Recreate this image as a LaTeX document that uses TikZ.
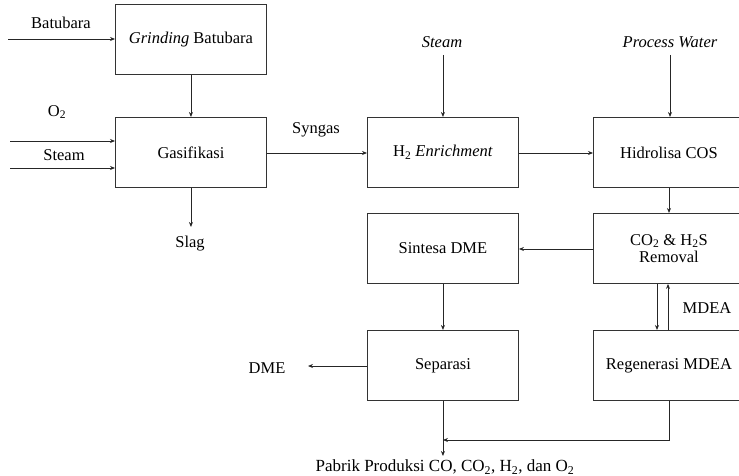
\documentclass[tikz,border=0pt]{standalone}
\usepackage{fontspec}
\setmainfont{Liberation Serif}
\usetikzlibrary{arrows.meta}
\begin{document}
\begin{tikzpicture}[x=1pt,y=-1pt,
  every node/.style={font=\fontsize{16.5}{19.5}\selectfont, inner sep=0pt},
  blok/.style={draw=black!80, line width=0.9pt, minimum width=151pt, minimum height=70pt, align=center, anchor=north west},
  lbl/.style={align=center},
  arr/.style={draw=black!85, line width=0.8pt, -{Stealth[length=5pt,width=4pt]}},
  ln/.style={draw=black!85, line width=0.8pt}]
\useasboundingbox (0,0) rectangle (739,476);
\clip (0,0) rectangle (739,476);
% boxes
\node[blok] (grind) at (115,4) {\textit{Grinding} Batubara};
\node[blok] (gas) at (115,117) {Gasifikasi};
\node[blok] (h2) at (367,117) {H\textsubscript{2} \textit{Enrichment}};
\node[blok] (hid) at (593,117) {Hidrolisa COS};
\node[blok] (sin) at (367,213) {Sintesa DME};
\node[blok, align=center] (rem) at (593,213) {CO\textsubscript{2} \& H\textsubscript{2}S\\[-2pt]Removal};
\node[blok] (sep) at (367,330) {Separasi};
\node[blok] (reg) at (593,330) {Regenerasi MDEA};
% labels
\node[lbl] (lbat) at (61,23) {Batubara};
\node[lbl] (lo2) at (57,112) {O\textsubscript{2}};
\node[lbl] (lsteam) at (64,155) {Steam};
\node[lbl] (lslag) at (190,244) {Slag};
\node[lbl] (lsyn) at (316,130) {Syngas};
\node[lbl] (lst2) at (442,42) {\textit{Steam}};
\node[lbl] (lpw) at (670,42) {\textit{Process Water}};
\node[lbl] (lmdea) at (707,308) {MDEA};
\node[lbl] (ldme) at (267,368) {DME};
\node[lbl] (lpab) at (445,467) {\fontsize{17}{20}\selectfont Pabrik Produksi CO, CO\textsubscript{2}, H\textsubscript{2}, dan O\textsubscript{2}};
% free-end coordinates
\coordinate (cbat) at (8,39);
\coordinate (co2) at (10,141);
\coordinate (cst) at (10,168);
\coordinate (cslag) at (190,227);
\coordinate (cst2) at (442,55);
\coordinate (cpw) at (670,55);
\coordinate (cdme) at (308,366);
\coordinate (cpab) at (442,456);
\coordinate (cjoin) at (442,440);
% connectors
\draw[arr] (cbat) -- (grind.west |- cbat);
\draw[arr] (co2) -- (gas.west |- co2);
\draw[arr] (cst) -- (gas.west |- cst);
\draw[arr] (grind.south) -- (gas.north);
\draw[arr] (gas.south) -- (gas.south |- cslag);
\draw[arr] (gas.east |- 0,153) -- (h2.west |- 0,153);
\draw[arr] (h2.north |- cst2) -- (h2.north);
\draw[arr] (cpw) -- (hid.north -| cpw);
\draw[arr] (h2.east |- 0,153) -- (hid.west |- 0,153);
\draw[arr] (hid.south -| 669,0) -- (rem.north -| 669,0);
\draw[arr] (rem.west |- 0,249) -- (sin.east |- 0,249);
\draw[arr] (sin.south) -- (sep.north);
\draw[arr] (rem.south -| 657,0) -- (reg.north -| 657,0);
\draw[arr] (reg.north -| 668,0) -- (rem.south -| 668,0);
\draw[arr] (sep.west |- cdme) -- (cdme);
\draw[arr] (sep.south) -- (sep.south |- cpab);
\draw[arr] (reg.south -| 669,0) |- (sep.south |- cjoin);
\end{tikzpicture}
\end{document}
